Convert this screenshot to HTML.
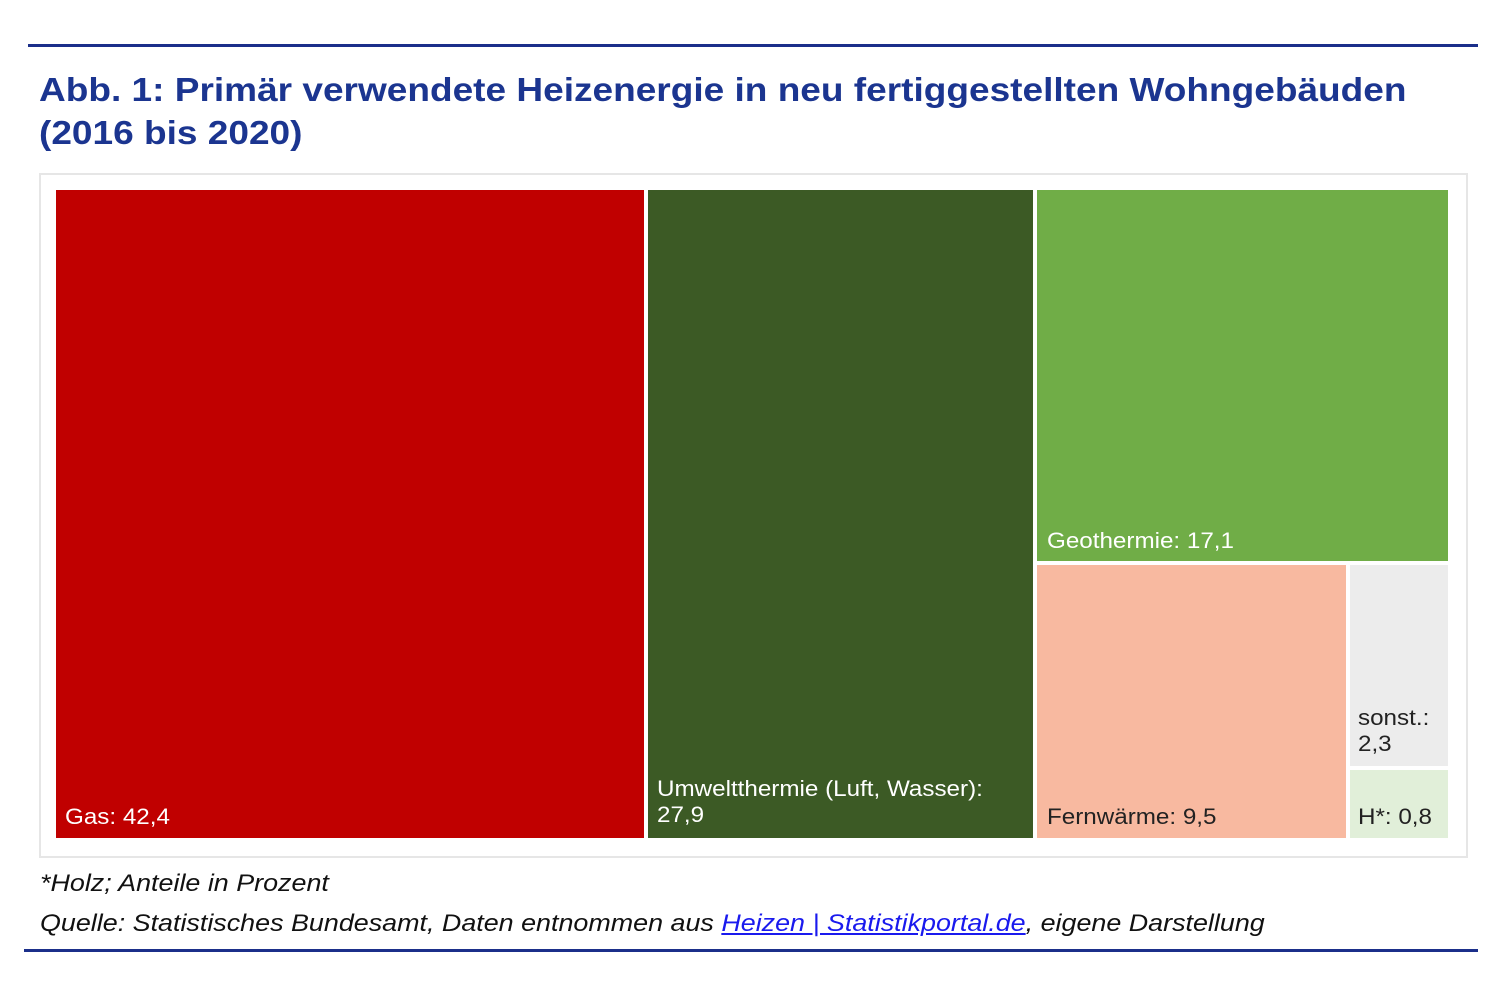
<!DOCTYPE html>
<html><head><meta charset="utf-8"><style>
body{margin:0;width:1500px;height:1000px;background:#fff;position:relative;font-family:"Liberation Sans",Arial,sans-serif;overflow:hidden}
.a{position:absolute}
.t{color:#1b3590;font-weight:bold;font-size:33px;left:39px;line-height:43px;transform:scaleX(1.122);transform-origin:0 0;white-space:nowrap}
.r{position:absolute}
.l{position:absolute;font-size:22px;line-height:26px;transform:scaleX(1.1);transform-origin:0 0;white-space:nowrap}
.f{position:absolute;left:40px;font-style:italic;font-size:24px;color:#111;transform:scaleX(1.12);transform-origin:0 0;white-space:nowrap}
</style></head><body>
<div class="a" style="left:28px;top:44px;width:1450px;height:3px;background:#1b2f8a"></div>
<div class="a t" style="top:68px">Abb. 1: Primär verwendete Heizenergie in neu fertiggestellten Wohngebäuden<br>(2016 bis 2020)</div>
<div class="a" style="left:39px;top:173px;width:1425px;height:681px;border:2px solid #e6e6e6"></div>
<div class="r" style="left:56px;top:190px;width:588px;height:648px;background:#c00000"></div>
<div class="r" style="left:648px;top:190px;width:385px;height:648px;background:#3c5a25"></div>
<div class="r" style="left:1037px;top:190px;width:411px;height:371px;background:#70ad47"></div>
<div class="r" style="left:1037px;top:565px;width:309px;height:273px;background:#f8b9a0"></div>
<div class="r" style="left:1350px;top:565px;width:98px;height:201px;background:#ececec"></div>
<div class="r" style="left:1350px;top:770px;width:98px;height:68px;background:#e1efd9"></div>
<div class="l" style="left:65px;top:804px;color:#fff">Gas: 42,4</div>
<div class="l" style="left:657px;top:776px;color:#fff">Umweltthermie (Luft, Wasser):<br>27,9</div>
<div class="l" style="left:1047px;top:528px;color:#fff">Geothermie: 17,1</div>
<div class="l" style="left:1047px;top:804px;color:#222">Fernwärme: 9,5</div>
<div class="l" style="left:1358px;top:705px;color:#222">sonst.:<br>2,3</div>
<div class="l" style="left:1358px;top:804px;color:#222">H*: 0,8</div>
<div class="f" style="top:870px">*Holz; Anteile in Prozent</div>
<div class="f" style="top:910px">Quelle: Statistisches Bundesamt, Daten entnommen aus <span style="color:#1a1aee;text-decoration:underline">Heizen | Statistikportal.de</span>, eigene Darstellung</div>
<div class="a" style="left:24px;top:949px;width:1454px;height:3px;background:#1b2f8a"></div>
</body></html>
